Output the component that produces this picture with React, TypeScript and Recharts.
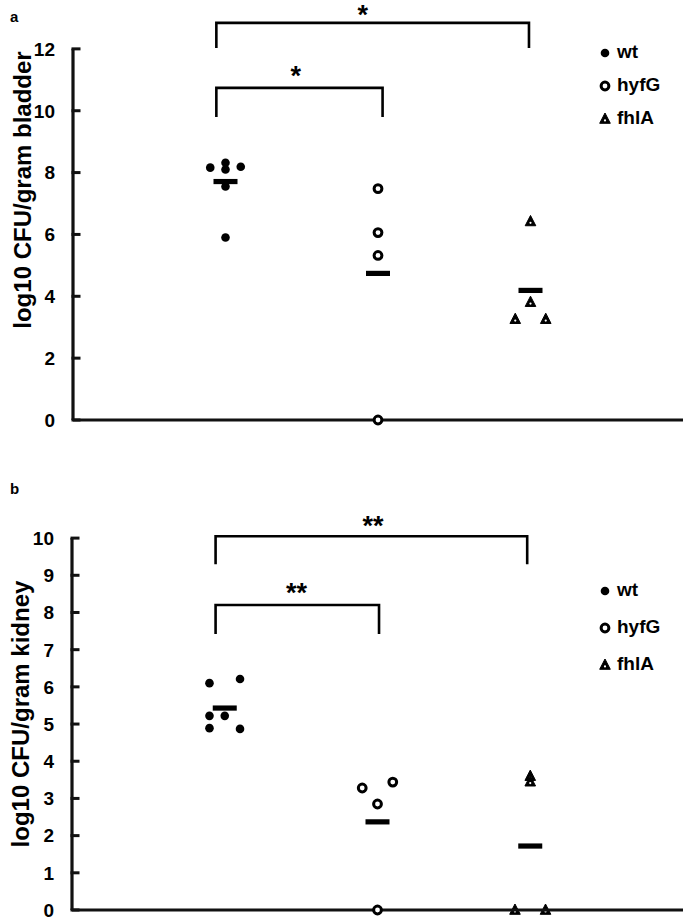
import React from 'react';
import { ComposedChart, Scatter, XAxis, YAxis } from 'recharts';

// ---------- data ----------
const groups = ['wt', 'hyfG', 'fhlA'];

// Panel a: bladder
const bladderTicks = [0, 2, 4, 6, 8, 10, 12];
const bladderWt = [8.16, 8.32, 8.1, 8.19, 7.55, 5.9];
const bladderWtSlot = [-1, 0, 0, 1, 0, 0];
const bladderHyfG = [7.48, 6.06, 5.32, 0];
const bladderHyfGSlot = [0, 0, 0, 0];
const bladderFhlA = [6.42, 3.81, 3.26, 3.26];
const bladderFhlASlot = [0, 0, -1, 1];
const bladderMeans = [7.71, 4.74, 4.19];
const bladderBrackets = [
  { from: 0.94, to: 2.99, top: 12.84, leg: 12.03, mark: '*', markX: 1.9, markY: 13.3 },
  { from: 0.94, to: 2.03, top: 10.74, leg: 9.8, mark: '*', markX: 1.46, markY: 11.32 },
];

// Panel b: kidney
const kidneyTicks = [0, 1, 2, 3, 4, 5, 6, 7, 8, 9, 10];
const kidneyWt = [6.1, 6.21, 5.22, 5.22, 4.89, 4.87];
const kidneyWtSlot = [-1, 1, -1, 0, -1, 1];
const kidneyHyfG = [3.28, 3.44, 2.85, 0];
const kidneyHyfGSlot = [-1, 1, 0, 0];
const kidneyFhlA = [3.6, 3.45, 0, 0];
const kidneyFhlASlot = [0, 0, -1, 1];
const kidneyMeans = [5.43, 2.37, 1.72];
const kidneyBrackets = [
  { from: 0.94, to: 2.98, top: 10.05, leg: 9.3, mark: '**', markX: 1.97, markY: 10.5 },
  { from: 0.94, to: 2.01, top: 8.2, leg: 7.42, mark: '**', markX: 1.47, markY: 8.68 },
];

// ---------- helpers ----------
const FONT = '"Liberation Sans", Arial, Helvetica, sans-serif';
const JIT = 0.1;
const X_MAX = 4;
const AXIS = '#111111';

const toPoints = (vals: number[], slots: number[], cat: number) =>
  vals.map((v, i) => ({ x: cat + slots[i] * JIT, y: v }));

const DotShape = (p: any) => <circle cx={p.cx} cy={p.cy} r={4.3} fill="#000" />;
const RingShape = (p: any) => (
  <circle cx={p.cx} cy={p.cy} r={3.9} fill="#fff" stroke="#000" strokeWidth={3} />
);
const TriShape = (p: any) => {
  const { cx, cy } = p;
  return (
    <g>
      <path
        d={`M${cx},${cy - 6} L${cx + 5.3},${cy + 4.3} L${cx - 5.3},${cy + 4.3} Z`}
        fill="#000"
        stroke="#000"
        strokeWidth={1}
        strokeLinejoin="round"
      />
      <circle cx={cx} cy={cy + 1.4} r={1.1} fill="#fff" />
    </g>
  );
};
const MeanShape = (p: any) => (
  <rect x={p.cx - 12} y={p.cy - 2.6} width={24} height={5.2} fill="#000" />
);
const TickMarkShape = (p: any) => (
  <rect x={p.cx - 1.5} y={p.cy - 1.5} width={9} height={3} fill={AXIS} />
);
const NoShape = () => <g />;
const MarkShape = (p: any) => (
  <text
    x={p.cx}
    y={p.cy + 15}
    textAnchor="middle"
    fontSize={27}
    fontWeight="bold"
    fontFamily={FONT}
    fill="#000"
  >
    {p.payload.mark}
  </text>
);

const makeTick = (props: any) => {
  const { x, y, payload } = props;
  return (
    <text
      x={Number(x) - 18}
      y={Number(y)}
      dy="0.36em"
      textAnchor="end"
      fontSize={19}
      fontWeight="bold"
      fontFamily={FONT}
      fill="#000"
    >
      {payload.value}
    </text>
  );
};

const AxisTitle = ({ text, cx, cy }: any) => (
  <div
    style={{
      position: 'absolute',
      left: cx - 200,
      top: cy - 15,
      width: 400,
      height: 30,
      lineHeight: '30px',
      textAlign: 'center',
      transform: 'rotate(-90deg)',
      fontFamily: FONT,
      fontWeight: 'bold',
      fontSize: 24,
      color: '#000',
      whiteSpace: 'nowrap',
      pointerEvents: 'none',
    }}
  >
    {text}
  </div>
);

const legendMarkers = [DotShape, RingShape, TriShape];

const LegendBox = ({ top, left, gap }: any) => (
  <div style={{ position: 'absolute', top, left, width: 90, height: 3 * gap }}>
    {groups.map((g, i) => {
      const M = legendMarkers[i];
      return (
        <div
          key={g}
          style={{ position: 'absolute', top: i * gap - 11, left: 0, height: 22, display: 'flex', alignItems: 'center' }}
        >
          <svg width={16} height={22} style={{ display: 'block' }}>
            <M cx={8} cy={12} />
          </svg>
          <span
            style={{
              marginLeft: 4,
              fontFamily: FONT,
              fontWeight: 'bold',
              fontSize: 19,
              lineHeight: '22px',
              color: '#000',
            }}
          >
            {g}
          </span>
        </div>
      );
    })}
  </div>
);

type PanelProps = {
  height: number;
  yMax: number;
  yTop: number;
  ticks: number[];
  yWidth: number;
  bottom: number;
  wt: { x: number; y: number }[];
  hyfG: { x: number; y: number }[];
  fhlA: { x: number; y: number }[];
  means: number[];
  brackets: any[];
};

const Panel = (p: PanelProps) => {
  const meanPts = p.means.map((m, i) => ({ x: i + 1, y: m }));
  const marks = p.brackets.map((b) => ({ x: b.markX, y: b.markY, mark: b.mark }));
  const yLine = [
    { x: 0, y: 0 },
    { x: 0, y: p.yTop },
  ];
  const xLine = [
    { x: 0, y: 0 },
    { x: X_MAX, y: 0 },
  ];
  const tickMarks = p.ticks.map((t) => ({ x: 0, y: t }));
  return (
    <ComposedChart
      width={685}
      height={p.height}
      margin={{ top: 0, right: 2, bottom: p.bottom, left: 0 }}
    >
      <XAxis type="number" dataKey="x" domain={[0, X_MAX]} hide />
      <YAxis
        type="number"
        dataKey="y"
        domain={[0, p.yMax]}
        ticks={p.ticks}
        width={p.yWidth}
        axisLine={{ stroke: 'transparent', strokeWidth: 1 }}
        tickLine={false}
        tickSize={0}
        tickMargin={0}
        tick={makeTick}
      />
      <Scatter
        data={yLine}
        line={{ stroke: AXIS, strokeWidth: 3.2 }}
        lineType="joint"
        shape={NoShape}
        isAnimationActive={false}
      />
      <Scatter data={tickMarks} shape={TickMarkShape} isAnimationActive={false} />
      {p.brackets.map((b, i) => (
        <Scatter
          key={'br' + i}
          data={[
            { x: b.from, y: b.leg },
            { x: b.from, y: b.top },
            { x: b.to, y: b.top },
            { x: b.to, y: b.leg },
          ]}
          line={{ stroke: '#000', strokeWidth: 2.6 }}
          lineType="joint"
          shape={NoShape}
          isAnimationActive={false}
        />
      ))}
      <Scatter data={marks} shape={MarkShape} isAnimationActive={false} />
      <Scatter data={p.wt} shape={DotShape} isAnimationActive={false} />
      <Scatter data={p.fhlA} shape={TriShape} isAnimationActive={false} />
      <Scatter data={meanPts} shape={MeanShape} isAnimationActive={false} />
      <Scatter
        data={xLine}
        line={{ stroke: AXIS, strokeWidth: 2.8 }}
        lineType="joint"
        shape={NoShape}
        isAnimationActive={false}
      />
      <Scatter data={p.hyfG} shape={RingShape} isAnimationActive={false} />
    </ComposedChart>
  );
};

export default function App() {
  return (
    <div style={{ position: 'absolute', left: 0, top: 0, width: 685, height: 921 }}>
      <div style={{ position: 'absolute', left: 0, top: 0 }}>
        <Panel
          height={460}
          yMax={13.58}
          yTop={12}
          ticks={bladderTicks}
          yWidth={73}
          bottom={40}
          wt={toPoints(bladderWt, bladderWtSlot, 1)}
          hyfG={toPoints(bladderHyfG, bladderHyfGSlot, 2)}
          fhlA={toPoints(bladderFhlA, bladderFhlASlot, 3)}
          means={bladderMeans}
          brackets={bladderBrackets}
        />
      </div>
      <div style={{ position: 'absolute', left: 0, top: 460 }}>
        <Panel
          height={461}
          yMax={12.1}
          yTop={10}
          ticks={kidneyTicks}
          yWidth={72}
          bottom={11}
          wt={toPoints(kidneyWt, kidneyWtSlot, 1)}
          hyfG={toPoints(kidneyHyfG, kidneyHyfGSlot, 2)}
          fhlA={toPoints(kidneyFhlA, kidneyFhlASlot, 3)}
          means={kidneyMeans}
          brackets={kidneyBrackets}
        />
      </div>
      <AxisTitle text="log10 CFU/gram bladder" cx={23} cy={190} />
      <AxisTitle text="log10 CFU/gram kidney" cx={21} cy={714} />
      <div style={{ position: 'absolute', left: 10, top: 8, fontFamily: FONT, fontWeight: 'bold', fontSize: 15 }}>
        a
      </div>
      <div style={{ position: 'absolute', left: 10, top: 480, fontFamily: FONT, fontWeight: 'bold', fontSize: 15 }}>
        b
      </div>
      <LegendBox top={52} left={597} gap={33} />
      <LegendBox top={590} left={597} gap={37} />
    </div>
  );
}
